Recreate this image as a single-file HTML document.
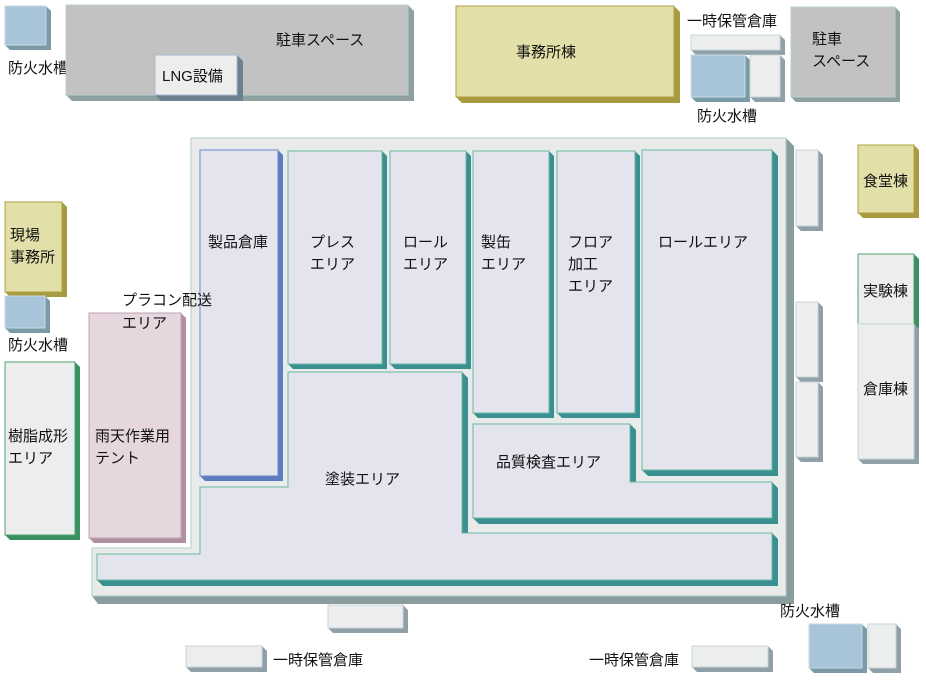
<!DOCTYPE html>
<html><head><meta charset="utf-8"><style>
html,body{margin:0;padding:0;background:#fff}
svg{display:block}
text{font-family:"Liberation Sans","Noto Sans CJK JP",sans-serif;font-size:15px;fill:#111}
</style></head><body>
<svg width="926" height="681" viewBox="0 0 926 681" xmlns="http://www.w3.org/2000/svg">
<polygon points="46,6 51,11 51,50 10,50 5,45 46,45" fill="#7a9aa8"/>
<rect x="5" y="6" width="41" height="39" fill="#a8c4d8" stroke="#c8dae4"/>
<text x="8" y="73">防火水槽</text>
<polygon points="408,5 414,11 414,101 72,101 66,95 408,95" fill="#8ea0a0"/>
<rect x="66" y="5" width="342" height="90" fill="#c2c2c2" stroke="#b8d0d0"/>
<text x="276" y="45">駐車スペース</text>
<polygon points="237,55 243,61 243,101 161,101 155,95 237,95" fill="#6e8090"/>
<rect x="155" y="55" width="82" height="40" fill="#eceeee" stroke="#a8b8d0"/>
<text x="162" y="81">LNG設備</text>
<polygon points="674,6 680,12 680,103 462,103 456,97 674,97" fill="#a89a40"/>
<rect x="456" y="6" width="218" height="91" fill="#e2e0a8" stroke="#b0a040"/>
<text x="516" y="57">事務所棟</text>
<text x="687" y="26">一時保管倉庫</text>
<polygon points="780,35 785,40 785,55 696,55 691,50 780,50" fill="#90a0a8"/>
<rect x="691" y="35" width="89" height="15" fill="#eceeee" stroke="#c8d4d8"/>
<polygon points="745,55 750,60 750,102 696,102 691,97 745,97" fill="#7a9aa8"/>
<rect x="691" y="55" width="54" height="42" fill="#a8c4d8" stroke="#c8dae4"/>
<polygon points="780,55 785,60 785,102 755,102 750,97 780,97" fill="#90a0a8"/>
<rect x="750" y="55" width="30" height="42" fill="#eceeee" stroke="#c8d4d8"/>
<text x="697" y="121">防火水槽</text>
<polygon points="895,7 900,12 900,102 796,102 791,97 895,97" fill="#8ea0a0"/>
<rect x="791" y="7" width="104" height="90" fill="#c2c2c2" stroke="#b8d0d0"/>
<text x="812" y="44">駐車</text>
<text x="812" y="66">スペース</text>
<polygon points="786,138 794,146 794,604 98,604 92,596 786,596" fill="#8a9c9c"/>
<polygon points="191,138 786,138 786,596 92,596 92,548 191,548" fill="#e8ebea" stroke="#b0cccc"/>
<polygon points="278,150 283,155 283,481 205,481 200,476 278,476" fill="#5a7cc0"/>
<rect x="200" y="150" width="78" height="326" fill="#e4e4ee" stroke="#6a88c8"/>
<text x="208" y="247">製品倉庫</text>
<g fill="#3a9090">
<polygon points="382,151 387,156 387,369 293,369 288,364 382,364"/>
<polygon points="466,151 471,156 471,369 395,369 390,364 466,364"/>
<polygon points="549,151 554,156 554,418 478,418 473,413 549,413"/>
<polygon points="635,151 640,156 640,418 562,418 557,413 635,413"/>
<polygon points="772,150 778,156 778,476 648,476 642,470 772,470"/>
<polygon points="462,372 468,378 468,533 462,533"/>
<polygon points="772,533 778,539 778,586 103,586 97,580 772,580"/>
<polygon points="630,424 636,430 636,482 630,482"/>
<polygon points="772,482 778,488 778,524 479,524 473,518 772,518"/>
</g>
<g fill="#e4e4ee" stroke="#6ab8a0">
<rect x="288" y="151" width="94" height="213"/>
<rect x="390" y="151" width="76" height="213"/>
<rect x="473" y="151" width="76" height="262"/>
<rect x="557" y="151" width="78" height="262"/>
<rect x="642" y="150" width="130" height="320"/>
<polygon points="288,372 462,372 462,533 772,533 772,580 97,580 97,554 200,554 200,487 288,487"/>
<polygon points="473,424 630,424 630,482 772,482 772,518 473,518"/>
</g>
<text x="310" y="247">プレス</text><text x="310" y="269">エリア</text>
<text x="403" y="247">ロール</text><text x="403" y="269">エリア</text>
<text x="481" y="247">製缶</text><text x="481" y="269">エリア</text>
<text x="568" y="247">フロア</text><text x="568" y="269">加工</text><text x="568" y="291">エリア</text>
<text x="658" y="247">ロールエリア</text>
<text x="325" y="484">塗装エリア</text>
<text x="496" y="467">品質検査エリア</text>
<g fill="#90a0a8">
<polygon points="818,150 823,155 823,231 801,231 796,226 818,226"/>
<polygon points="818,302 823,307 823,382 801,382 796,377 818,377"/>
<polygon points="818,382 823,387 823,462 801,462 796,457 818,457"/>
</g>
<g fill="#eceeee" stroke="#c8d4d8">
<rect x="796" y="150" width="22" height="76"/>
<rect x="796" y="302" width="22" height="75"/>
<rect x="796" y="382" width="22" height="75"/>
</g>
<polygon points="914,145 919,150 919,218 863,218 858,213 914,213" fill="#a89a40"/>
<rect x="858" y="145" width="56" height="68" fill="#e2e0a8" stroke="#b0a040"/>
<text x="863" y="186">食堂棟</text>
<polygon points="914,254 919,259 919,329 863,329 858,324 914,324" fill="#3a9060"/>
<rect x="858" y="254" width="56" height="70" fill="#eceeee" stroke="#50a070"/>
<text x="863" y="296">実験棟</text>
<polygon points="914,324 919,329 919,464 863,464 858,459 914,459" fill="#90a0a8"/>
<rect x="858" y="324" width="56" height="135" fill="#eceeee" stroke="#c8d4d8"/>
<text x="863" y="394">倉庫棟</text>
<polygon points="62,202 67,207 67,297 10,297 5,292 62,292" fill="#a89a40"/>
<rect x="5" y="202" width="57" height="90" fill="#e2e0a8" stroke="#b0a040"/>
<text x="10" y="240">現場</text><text x="10" y="262">事務所</text>
<polygon points="45,296 50,301 50,333 10,333 5,328 45,328" fill="#7a9aa8"/>
<rect x="5" y="296" width="40" height="32" fill="#a8c4d8" stroke="#c8dae4"/>
<text x="8" y="350">防火水槽</text>
<polygon points="75,362 80,367 80,540 10,540 5,535 75,535" fill="#3a9060"/>
<rect x="5" y="362" width="70" height="173" fill="#eceeee" stroke="#50a070"/>
<text x="8" y="441">樹脂成形</text><text x="8" y="463">エリア</text>
<polygon points="181,313 186,318 186,543 94,543 89,538 181,538" fill="#b090a0"/>
<rect x="89" y="313" width="92" height="225" fill="#e6d6de" stroke="#c0a0b0"/>
<text x="122" y="305">プラコン配送</text><text x="122" y="328">エリア</text>
<text x="95" y="441">雨天作業用</text><text x="95" y="463">テント</text>
<g fill="#90a0a8">
<polygon points="403,605 408,610 408,633 333,633 328,628 403,628"/>
<polygon points="262,646 267,651 267,672 191,672 186,667 262,667"/>
<polygon points="768,646 773,651 773,672 697,672 692,667 768,667"/>
<polygon points="896,624 901,629 901,673 873,673 868,668 896,668"/>
</g>
<polygon points="862,624 867,629 867,673 814,673 809,668 862,668" fill="#7a9aa8"/>
<g fill="#eceeee" stroke="#c8d4d8">
<rect x="328" y="605" width="75" height="23"/>
<rect x="186" y="646" width="76" height="21"/>
<rect x="692" y="646" width="76" height="21"/>
<rect x="868" y="624" width="28" height="44"/>
</g>
<rect x="809" y="624" width="53" height="44" fill="#a8c4d8" stroke="#c8dae4"/>
<text x="273" y="665">一時保管倉庫</text>
<text x="589" y="665">一時保管倉庫</text>
<text x="780" y="616">防火水槽</text>
</svg>
</body></html>
